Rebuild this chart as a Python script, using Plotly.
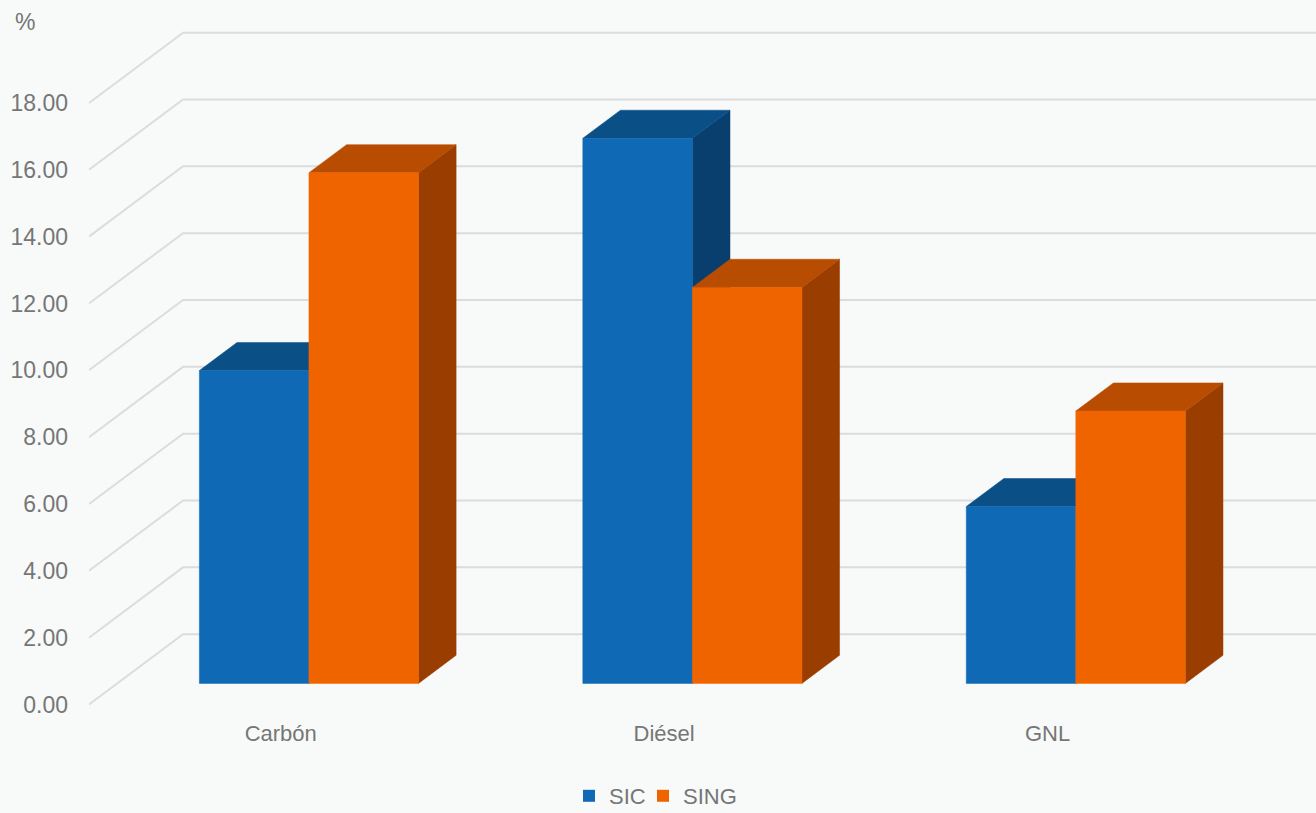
import plotly.graph_objects as go

categories = ["Carbón", "Diésel", "GNL"]
series_names = ["SIC", "SING"]
sic_values = [9.36, 16.31, 5.29]
sing_values = [15.28, 11.85, 8.15]
y_ticks = [0, 2, 4, 6, 8, 10, 12, 14, 16, 18]
y_tick_labels = ["%.2f" % v for v in y_ticks]

front_colors = ["#0F69B4", "#F06400"]
top_colors = ["#0B4F87", "#B84C00"]
side_colors = ["#083F6F", "#9A3D00"]

FONT = "Liberation Sans, Arial, sans-serif"
TXT = "#767676"
BG = "#F8FAF9"
GRID = "#DCDCDC"

# oblique projection: full depth -> (DX, DY) in data units
DX = 0.2453
DY = 2.1036
BAR_W = 1 / 3.5          # gap width 150%
D0, D1 = 0.3, 0.7        # gap depth 150%
X_MIN, X_MAX = -0.5, 2.7
Y_TOP_PX, Y_BOT_PX = 0, 712
PX_PER_UNIT = 33.42
V0_PX = 704.5
y_range = [(V0_PX - Y_BOT_PX) / PX_PER_UNIT, (V0_PX - Y_TOP_PX) / PX_PER_UNIT]


def proj(x, v, d):
    return x + d * DX, v + d * DY


fig = go.Figure()

# side wall diagonals and back wall lines
gx, gy = [], []
for v in y_ticks:
    a = proj(X_MIN, v, 0)
    b = proj(X_MIN, v, 1)
    gx += [a[0], b[0], X_MAX + 0.1, None]
    gy += [a[1], b[1], b[1], None]
fig.add_trace(go.Scatter(x=gx, y=gy, mode="lines", line=dict(color=GRID, width=2),
                         hoverinfo="skip", showlegend=False))


def face(pts, color):
    xs = [p[0] for p in pts] + [pts[0][0]]
    ys = [p[1] for p in pts] + [pts[0][1]]
    fig.add_trace(go.Scatter(x=xs, y=ys, mode="lines", fill="toself", fillcolor=color,
                             line=dict(color=color, width=0.5), hoverinfo="skip",
                             showlegend=False))


for ci, cat in enumerate(categories):
    for si, vals in enumerate([sic_values, sing_values]):
        v = vals[ci]
        xl = ci - BAR_W + si * BAR_W
        xr = xl + BAR_W
        # side face
        face([proj(xr, 0, D0), proj(xr, 0, D1), proj(xr, v, D1), proj(xr, v, D0)], side_colors[si])
        # top face
        face([proj(xl, v, D0), proj(xr, v, D0), proj(xr, v, D1), proj(xl, v, D1)], top_colors[si])
        # front face
        face([proj(xl, 0, D0), proj(xr, 0, D0), proj(xr, v, D0), proj(xl, v, D0)], front_colors[si])

legend_ids = ["legend", "legend2"]
for si, name in enumerate(series_names):
    fig.add_trace(go.Scatter(x=[None], y=[None], mode="markers", name=name,
                             legend=legend_ids[si],
                             marker=dict(symbol="square", size=12, color=front_colors[si])))

leg_common = dict(orientation="h", xanchor="left", y=-(796 - 712) / 712, yanchor="middle",
                  font=dict(size=22, color=TXT), bgcolor="rgba(0,0,0,0)", itemwidth=30)

fig.update_layout(
    width=1316, height=813,
    margin=dict(l=89, r=0, t=Y_TOP_PX, b=813 - Y_BOT_PX, autoexpand=False),
    paper_bgcolor=BG, plot_bgcolor=BG,
    font=dict(family=FONT, size=23, color=TXT),
    xaxis=dict(range=[X_MIN, X_MAX], showgrid=False, zeroline=False, showline=False,
               tickmode="array", tickvals=[0, 1, 2], ticktext=categories,
               ticks="", ticklabelstandoff=6, tickfont=dict(size=22, color=TXT)),
    yaxis=dict(range=y_range, showgrid=False, zeroline=False, showline=False,
               tickmode="array", tickvals=y_ticks, ticktext=y_tick_labels,
               ticks="", ticklabelstandoff=20, tickfont=dict(size=23, color=TXT)),
    legend=dict(x=(569 - 89) / 1227, **leg_common),
    legend2=dict(x=(643 - 89) / 1227, **leg_common),
    annotations=[dict(text="%", xref="paper", yref="paper",
                      x=(25 - 89) / 1227, y=1 - 22.5 / 712, xanchor="center", yanchor="middle",
                      showarrow=False, font=dict(size=23, color=TXT))],
    showlegend=True,
)

fig.write_html("out.html")
